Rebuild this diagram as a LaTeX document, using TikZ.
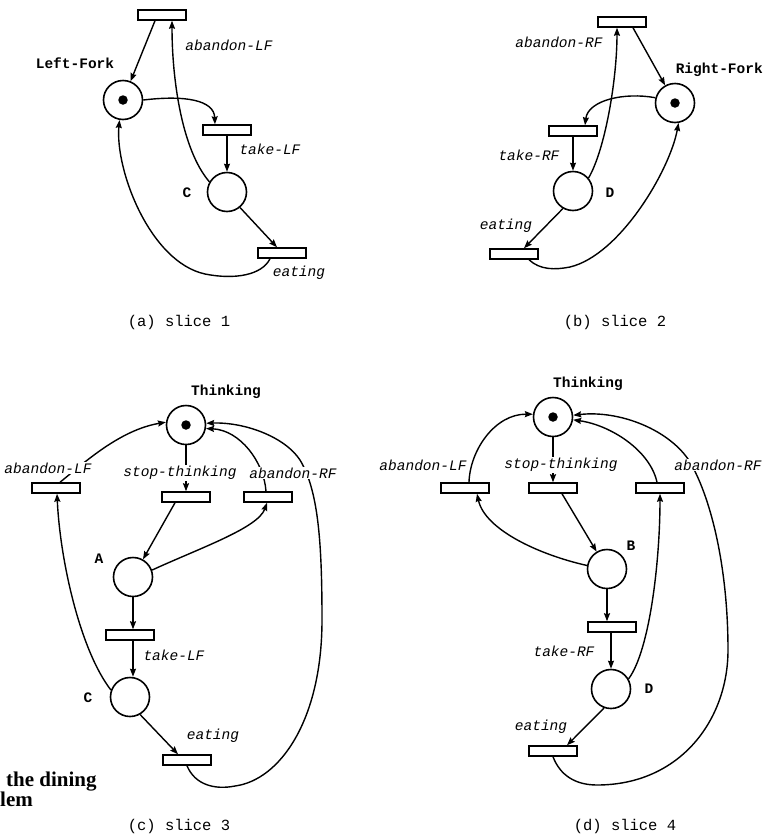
\documentclass[tikz,border=0pt]{standalone}
\usepackage{fontspec}
\setmainfont{Liberation Serif}
\setmonofont{Liberation Mono}
\usetikzlibrary{arrows.meta}

\begin{document}
\begin{tikzpicture}[x=1pt,y=-1pt,
  flow/.style={draw, line width=1.4pt, -{Stealth[length=8pt,width=6pt,inset=1pt]}},
  place/.style={circle, draw, line width=1.6pt, minimum size=39pt, inner sep=0pt},
  trans/.style={rectangle, draw, fill=white, line width=1.5pt, minimum width=48pt, minimum height=10pt, inner sep=0pt},
  token/.style={circle, fill=black, minimum size=9.5pt, inner sep=0pt},
  tlabel/.style={font=\ttfamily\itshape\fontsize{14.5}{16}\selectfont, fill=white, inner sep=1pt},
  plabel/.style={font=\ttfamily\bfseries\fontsize{14.5}{16}\selectfont, inner sep=0pt},
  figcap/.style={font=\ttfamily\fontsize{15.5}{18}\selectfont},
  frag/.style={font=\bfseries\fontsize{21}{23}\selectfont, anchor=base west, inner sep=0pt}
]
\useasboundingbox[fill=white] (0,0) rectangle (764,836);

% ---------------- (a) slice 1 ----------------
\node[trans] (a1) at (162,15) {};
\node[place] (a2) at (123,100) {};
\node[token] (a2t) at (a2) {};
\node[trans] (a3) at (227,130) {};
\node[place] (a4) at (227,192) {};
\node[trans] (a5) at (282,253) {};

\draw[flow] ([xshift=-7pt]a1.south) -- (a2);
\draw[flow] (a4.150) .. controls (182,150) and (172,80) .. ([xshift=10pt]a1.south);
\draw[flow] (a2.east) .. controls (185,95) and (214,100) .. ([xshift=-12pt]a3.north);
\draw[flow] (a3.south) -- (a4.north);
\draw[flow] (a4.-50) -- ([xshift=-5pt]a5.north);
\draw[flow] ([xshift=-12pt]a5.south) .. controls (262,275) and (235,280) .. (205,274)
  .. controls (150,262) and (115,170) .. (a2.-100);

\node[plabel] (a6) at (75,63) {Left-Fork};
\node[tlabel] (a7) at (229,45) {abandon-LF};
\node[tlabel] (a8) at (270,149) {take-LF};
\node[plabel] (a9) at (187,193) {C};
\node[tlabel] (a10) at (299,273) {eating};
\node[figcap] (a11) at (179,322) {(a) slice 1};

% ---------------- (b) slice 2 ----------------
\node[trans] (b1) at (622,22) {};
\node[place] (b2) at (675,103) {};
\node[token] (b2t) at (b2) {};
\node[trans] (b3) at (573,131) {};
\node[place] (b4) at (573,191) {};
\node[trans] (b5) at (514,254) {};

\draw[flow] ([xshift=11pt]b1.south) -- (b2);
\draw[flow] (b4.40) .. controls (605,150) and (617,80) .. ([xshift=-5pt]b1.south);
\draw[flow] (b2.165) .. controls (625,92) and (588,100) .. ([xshift=12pt]b3.north);
\draw[flow] (b3.south) -- (b4.north);
\draw[flow] (b4.-120) -- ([xshift=10pt]b5.north);
\draw[flow] ([xshift=15pt]b5.south) .. controls (540,270) and (555,270) .. (570,267)
  .. controls (620,255) and (670,170) .. (b2.-80);

\node[tlabel] (b6) at (559,42) {abandon-RF};
\node[plabel, anchor=east] (b7) at (763,70) {Right-Fork};
\node[tlabel] (b8) at (529,155) {take-RF};
\node[plabel] (b9) at (610,193) {D};
\node[tlabel] (b10) at (506,226) {eating};
\node[figcap] (b11) at (615,322) {(b) slice 2};

% ---------------- (c) slice 3 ----------------
\node[place] (c1) at (186,425) {};
\node[token] (c1t) at (c1) {};
\node[trans] (c2) at (56,488) {};
\node[trans] (c3) at (186,497) {};
\node[trans] (c4) at (268,497) {};
\node[place] (c5) at (133,577) {};
\node[trans] (c6) at (130,635) {};
\node[place] (c7) at (130,697) {};
\node[trans] (c8) at (187,760) {};

\draw[flow] ([xshift=4pt]c2.north) .. controls (85,462) and (120,430) .. (c1.172);
\draw[flow] (c1.south) -- (c3.north);
\draw[flow] ([xshift=-2pt]c4.north) .. controls (264,462) and (240,430) .. (c1.-10);
\draw[flow] (c8.south) .. controls (195,785) and (215,790) .. (235,786)
  .. controls (280,780) and (322,720) .. (322,620)
  .. controls (322,540) and (318,490) .. (300,460)
  .. controls (285,437) and (245,422) .. (c1.5);
\draw[flow] ([xshift=-11pt]c3.south) -- (c5);
\draw[flow] (c5.20) .. controls (200,548) and (258,528) .. ([xshift=-1pt]c4.south);
\draw[flow] (c5.south) -- (c5.south |- c6.north);
\draw[flow] (c6.south -| c5) -- (c7.north -| c5);
\draw[flow] (c7.160) .. controls (80,650) and (60,560) .. ([xshift=1pt]c2.south);
\draw[flow] (c7.-60) -- ([xshift=-9pt]c8.north);

\node[plabel] (c9) at (226,392) {Thinking};
\node[tlabel] (c10) at (48,468) {abandon-LF};
\node[tlabel] (c11) at (180,473) {stop-thinking};
\node[tlabel] (c12) at (293,473) {abandon-RF};
\node[plabel] (c13) at (99,559) {A};
\node[tlabel] (c14) at (174,655) {take-LF};
\node[plabel] (c15) at (88,698) {C};
\node[tlabel] (c16) at (213,736) {eating};
\node[figcap] (c17) at (179,826) {(c) slice 3};
\node[frag] (c18) at (6,786) {the dining};
\node[frag] (c19) at (0,806) {lem};

% ---------------- (d) slice 4 ----------------
\node[place] (d1) at (553,417) {};
\node[token] (d1t) at (d1) {};
\node[trans] (d2) at (465,488) {};
\node[trans] (d3) at (553,488) {};
\node[trans] (d4) at (660,488) {};
\node[place] (d5) at (607,569) {};
\node[trans] (d6) at (612,627) {};
\node[place] (d7) at (611,689) {};
\node[trans] (d8) at (553,751) {};

\draw[flow] ([xshift=4pt]d2.north) .. controls (470,450) and (495,414) .. (d1.172);
\draw[flow] (d1.south) -- (d3.north);
\draw[flow] ([xshift=-3pt]d4.north) .. controls (650,450) and (610,425) .. (d1.-8);
\draw[flow] (d8.south) .. controls (560,775) and (575,785) .. (597,785)
  .. controls (680,785) and (728,720) .. (728,650)
  .. controls (728,570) and (712,500) .. (690,462)
  .. controls (670,430) and (620,410) .. (d1.5);
\draw[flow] ([xshift=9pt]d3.south) -- (d5);
\draw[flow] (d5.170) .. controls (540,555) and (485,530) .. ([xshift=12pt]d2.south);
\draw[flow] (d5.south) -- (d5.south |- d6.north);
\draw[flow] (d6.south -| d7) -- (d7.north);
\draw[flow] (d7.30) .. controls (650,650) and (660,560) .. (d4.south);
\draw[flow] (d7.-110) -- ([xshift=14pt]d8.north);

\node[plabel] (d9) at (588,384) {Thinking};
\node[tlabel] (d10) at (423,465) {abandon-LF};
\node[tlabel] (d11) at (561,465) {stop-thinking};
\node[tlabel] (d12) at (718,465) {abandon-RF};
\node[plabel] (d13) at (631,546) {B};
\node[tlabel] (d14) at (564,651) {take-RF};
\node[plabel] (d15) at (649,689) {D};
\node[tlabel] (d16) at (541,727) {eating};
\node[figcap] (d17) at (625,826) {(d) slice 4};
\end{tikzpicture}
\end{document}
